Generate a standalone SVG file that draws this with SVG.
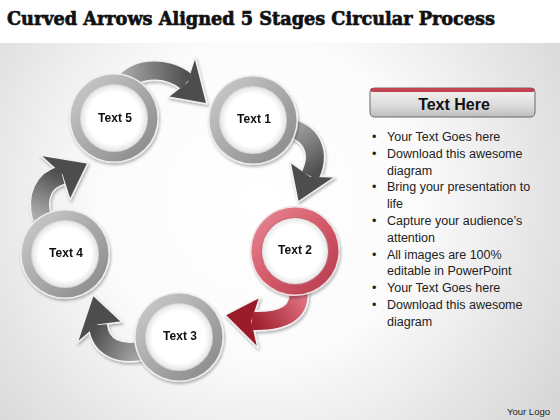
<svg xmlns="http://www.w3.org/2000/svg" width="560" height="420" viewBox="0 0 560 420">
<defs>
<radialGradient id="bg" cx="260" cy="200" r="360" gradientUnits="userSpaceOnUse">
<stop offset="0" stop-color="#ffffff"/><stop offset="0.45" stop-color="#fbfbfb"/><stop offset="1" stop-color="#d6d6d6"/>
</radialGradient>
<linearGradient id="ringG" x1="0" y1="0" x2="1" y2="1">
<stop offset="0" stop-color="#cfcfcf"/><stop offset="0.5" stop-color="#a9a9a9"/><stop offset="1" stop-color="#858585"/>
</linearGradient>
<linearGradient id="ringR" x1="0" y1="0" x2="1" y2="1">
<stop offset="0" stop-color="#e88a96"/><stop offset="0.5" stop-color="#d45a6a"/><stop offset="1" stop-color="#b2384a"/>
</linearGradient>
<radialGradient id="disc" cx="0.5" cy="0.5" r="0.5">
<stop offset="0.8" stop-color="#ffffff"/><stop offset="1" stop-color="#e6e6e6"/>
</radialGradient>
<linearGradient id="a51" x1="122" y1="88" x2="187" y2="82" gradientUnits="userSpaceOnUse"><stop offset="0" stop-color="#ababab"/><stop offset="1" stop-color="#505050"/></linearGradient>
<linearGradient id="a12" x1="280" y1="128" x2="310" y2="176" gradientUnits="userSpaceOnUse"><stop offset="0" stop-color="#ababab"/><stop offset="1" stop-color="#505050"/></linearGradient>
<linearGradient id="a23" x1="298" y1="288" x2="252" y2="321" gradientUnits="userSpaceOnUse"><stop offset="0" stop-color="#e07383"/><stop offset="1" stop-color="#a0202f"/></linearGradient>
<linearGradient id="a34" x1="145" y1="350" x2="98" y2="325" gradientUnits="userSpaceOnUse"><stop offset="0" stop-color="#ababab"/><stop offset="1" stop-color="#505050"/></linearGradient>
<linearGradient id="a45" x1="42" y1="218" x2="62" y2="175" gradientUnits="userSpaceOnUse"><stop offset="0" stop-color="#ababab"/><stop offset="1" stop-color="#505050"/></linearGradient>
<linearGradient id="btn" x1="0" y1="0" x2="0" y2="1">
<stop offset="0" stop-color="#f4f4f4"/><stop offset="0.6" stop-color="#dcdcdc"/><stop offset="1" stop-color="#bdbdbd"/>
</linearGradient>
<filter id="sh" x="-20%" y="-20%" width="140%" height="140%"><feGaussianBlur in="SourceAlpha" stdDeviation="1.5"/><feOffset dx="1" dy="1.5" result="b"/><feComponentTransfer><feFuncA type="linear" slope="0.3"/></feComponentTransfer><feMerge><feMergeNode/><feMergeNode in="SourceGraphic"/></feMerge></filter>
</defs>
<style>
.title{font-family:"DejaVu Serif","Liberation Serif",serif;font-weight:bold;font-size:19px;fill:#111;stroke:#111;stroke-width:0.7}
.lbl{font-family:"Liberation Sans",Arial,sans-serif;font-weight:bold;font-size:12px;fill:#111;text-anchor:middle}
.bul{font-family:"Liberation Sans",Arial,sans-serif;font-size:12.5px;fill:#222}
.edge{fill:none;stroke:#f2f2f2;stroke-width:21}
.head{stroke:#f2f2f2;stroke-width:1.5;stroke-linejoin:round}
</style>
<rect width="560" height="420" fill="url(#bg)"/>
<rect width="560" height="43" fill="#ffffff"/>
<text class="title" x="7" y="25" textLength="488" lengthAdjust="spacingAndGlyphs">Curved Arrows Aligned 5 Stages Circular Process</text>

<g id="connectors" filter="url(#sh)">
<g id="c51">
<path class="edge" d="M122,88 C130,68 165,64 187,82"/>
<polygon class="head" points="195,57 207,104 168,97 187,82" fill="#4e4e4e"/>
<path d="M122,88 C130,68 165,64 187,82" fill="none" stroke="url(#a51)" stroke-width="18"/>
</g>
<g id="c12">
<path class="edge" d="M280,128 C306,126 324,148 310,176"/>
<polygon class="head" points="290,162 298,202 335,177 310,176" fill="#4e4e4e"/>
<path d="M280,128 C306,126 324,148 310,176" fill="none" stroke="url(#a12)" stroke-width="18"/>
</g>
<g id="c23">
<path class="edge" d="M298,288 C302,312 285,322 252,321"/>
<polygon class="head" points="260,297 225,315 258,348 252,321" fill="#9a1a2c"/>
<path d="M298,288 C302,312 285,322 252,321" fill="none" stroke="url(#a23)" stroke-width="18"/>
</g>
<g id="c34">
<path class="edge" d="M145,350 C120,356 100,348 98,325"/>
<polygon class="head" points="77,343 93,295 122,322 98,325" fill="#4e4e4e"/>
<path d="M145,350 C120,356 100,348 98,325" fill="none" stroke="url(#a34)" stroke-width="18"/>
</g>
<g id="c45">
<path class="edge" d="M42,218 C36,196 44,180 62,175"/>
<polygon class="head" points="40,155 88,163 70,200 62,175" fill="#4e4e4e"/>
<path d="M42,218 C36,196 44,180 62,175" fill="none" stroke="url(#a45)" stroke-width="18"/>
</g>
</g>

<g id="node5" filter="url(#sh)">
<circle cx="114" cy="118" r="45" fill="#eeeeee"/><circle cx="114" cy="118" r="43.5" fill="url(#ringG)"/>
<circle cx="114" cy="118" r="34" fill="#d6d6d6"/><circle cx="114" cy="118" r="33" fill="url(#disc)"/>
<text class="lbl" x="115" y="122">Text 5</text>
</g>
<g id="node1" filter="url(#sh)">
<circle cx="253" cy="120" r="45" fill="#eeeeee"/><circle cx="253" cy="120" r="43.5" fill="url(#ringG)"/>
<circle cx="253" cy="120" r="34" fill="#d6d6d6"/><circle cx="253" cy="120" r="33" fill="url(#disc)"/>
<text class="lbl" x="254" y="123">Text 1</text>
</g>
<g id="node2" filter="url(#sh)">
<circle cx="295" cy="251" r="45" fill="#f0e0e2"/><circle cx="295" cy="251" r="43.5" fill="url(#ringR)"/>
<circle cx="295" cy="251" r="34" fill="#c86a76"/><circle cx="295" cy="251" r="33" fill="url(#disc)"/>
<text class="lbl" x="295" y="254">Text 2</text>
</g>
<g id="node3" filter="url(#sh)">
<circle cx="179" cy="337" r="45" fill="#eeeeee"/><circle cx="179" cy="337" r="43.5" fill="url(#ringG)"/>
<circle cx="179" cy="337" r="34" fill="#d6d6d6"/><circle cx="179" cy="337" r="33" fill="url(#disc)"/>
<text class="lbl" x="180" y="340">Text 3</text>
</g>
<g id="node4" filter="url(#sh)">
<circle cx="65" cy="254" r="45" fill="#eeeeee"/><circle cx="65" cy="254" r="43.5" fill="url(#ringG)"/>
<circle cx="65" cy="254" r="34" fill="#d6d6d6"/><circle cx="65" cy="254" r="33" fill="url(#disc)"/>
<text class="lbl" x="66" y="257">Text 4</text>
</g>

<g id="panel">
<path d="M370,92 Q370,88 374,88 L531,88 Q535,88 535,92 L535,112 Q535,117 530,117 L375,117 Q370,117 370,112 Z" fill="url(#btn)" stroke="#6a6a6a" stroke-width="1"/>
<rect x="370.5" y="88" width="164" height="4" rx="2" fill="#c24252"/>
<text x="454" y="110" font-family="'Liberation Sans',Arial,sans-serif" font-weight="bold" font-size="16" fill="#111" text-anchor="middle">Text Here</text>
<g class="bul">
<text x="372" y="141">•</text><text x="387" y="141">Your Text Goes here</text>
<text x="372" y="158">•</text><text x="387" y="158">Download this awesome</text>
<text x="387" y="175">diagram</text>
<text x="372" y="191">•</text><text x="387" y="191">Bring your presentation to</text>
<text x="387" y="208">life</text>
<text x="372" y="225">•</text><text x="387" y="225">Capture your audience’s</text>
<text x="387" y="242">attention</text>
<text x="372" y="259">•</text><text x="387" y="259">All images are 100%</text>
<text x="387" y="275">editable in PowerPoint</text>
<text x="372" y="292">•</text><text x="387" y="292">Your Text Goes here</text>
<text x="372" y="309">•</text><text x="387" y="309">Download this awesome</text>
<text x="387" y="326">diagram</text>
</g>
</g>
<text x="550" y="415" font-family="'Liberation Sans',Arial,sans-serif" font-size="9.5" fill="#222" text-anchor="end">Your Logo</text>
</svg>
